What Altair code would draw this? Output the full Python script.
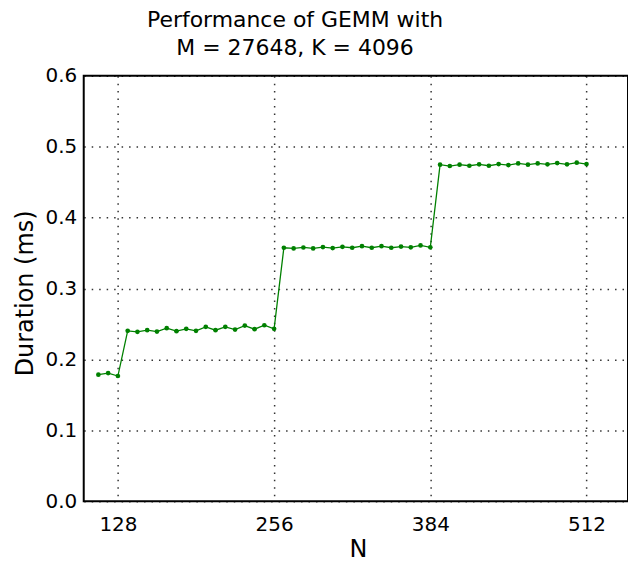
import altair as alt
import pandas as pd

n_values = list(range(112, 513, 8))
durations = [
    0.1785, 0.1808, 0.1766,
    0.2403, 0.2389, 0.2412, 0.2393, 0.2440, 0.2398, 0.2431, 0.2403,
    0.2459, 0.2412, 0.2459, 0.2421, 0.2477, 0.2426, 0.2482, 0.2431,
    0.3574, 0.3565, 0.3578, 0.3565, 0.3583, 0.3570, 0.3587, 0.3574,
    0.3597, 0.3574, 0.3597, 0.3574, 0.3590, 0.3580, 0.3607, 0.3580,
    0.4745, 0.4726, 0.4745, 0.4730, 0.4750, 0.4730, 0.4754, 0.4740,
    0.4763, 0.4745, 0.4763, 0.4750, 0.4768, 0.4750, 0.4773, 0.4754,
]
x_ticks = [128, 256, 384, 512]
y_ticks = [0.0, 0.1, 0.2, 0.3, 0.4, 0.5, 0.6]
title_lines = ["Performance of GEMM with", "M = 27648, K = 4096"]

df = pd.DataFrame({"N": n_values, "Duration": durations})

FONT = "DejaVu Sans"

x_enc = alt.X(
    "N:Q",
    scale=alt.Scale(domain=[100, 546], nice=False, zero=False),
    axis=alt.Axis(
        values=x_ticks, title="N", labelFontSize=20, titleFontSize=24,
        labelPadding=13, tickSize=0, ticks=False, domain=False,
        titleX=275, titleY=55, titleBaseline="alphabetic", titleAlign="center",
        titleFontWeight="normal", labelColor="black", titleColor="black",
        labelFont=FONT, titleFont=FONT,
        gridColor="black", gridDash=[1.5, 6], gridWidth=1.5, gridOpacity=0.8,
    ),
)
y_enc = alt.Y(
    "Duration:Q",
    scale=alt.Scale(domain=[0, 0.6], nice=False),
    axis=alt.Axis(
        values=y_ticks, format=".1f", title="Duration (ms)", labelFontSize=20,
        titleFontSize=24, labelPadding=7, tickSize=0, ticks=False, domain=False,
        titleX=-51, titleY=218, titleAngle=-90, titleBaseline="alphabetic",
        titleAlign="center", titleFontWeight="normal",
        labelColor="black", titleColor="black", labelFont=FONT, titleFont=FONT,
        gridColor="black", gridDash=[1.5, 6], gridWidth=1.5, gridOpacity=0.8,
    ),
)

line = alt.Chart(df).mark_line(color="#008000", strokeWidth=1.3).encode(x=x_enc, y=y_enc)
pts = alt.Chart(df).mark_point(filled=True, color="#008000", size=22, opacity=1).encode(x="N:Q", y="Duration:Q")

chart = (line + pts).properties(
    width=546,
    height=427,
    autosize=alt.AutoSizeParams(type="none"),
    padding={"left": 84, "top": 75, "right": 0, "bottom": 61},
    title=alt.TitleParams(
        text=title_lines, fontSize=22, font=FONT, fontWeight="normal",
        color="black", anchor="middle", frame="group", dx=-61, offset=6,
        lineHeight=28,
    ),
).configure_view(stroke="black", strokeWidth=2)

chart.save("out.html", embed_options={"renderer": "svg", "actions": False})
